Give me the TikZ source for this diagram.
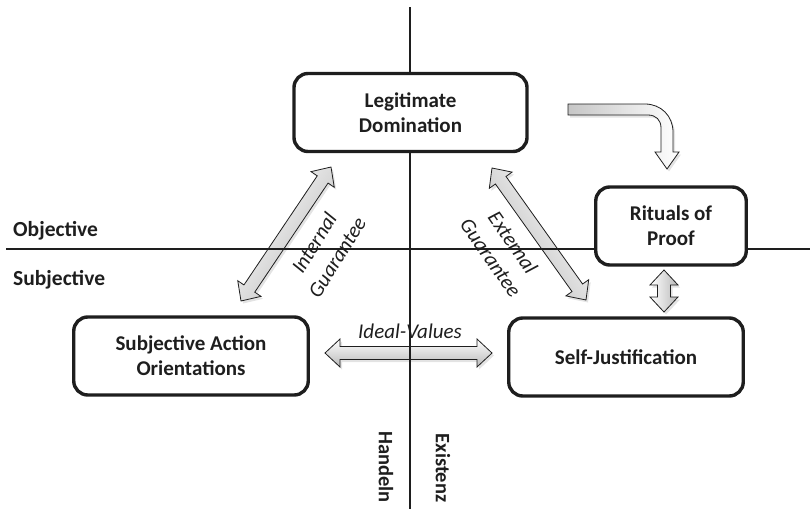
\documentclass[tikz,border=0pt]{standalone}
\usepackage{fontspec}
\setmainfont{Carlito}
\usetikzlibrary{calc,shadows}
\definecolor{ink}{HTML}{1E1E1E}
\tikzset{
  box/.style={draw=ink, line width=3.4pt, rounded corners=14pt, fill=white, align=center,
    inner sep=0pt, minimum height=78pt, text=ink, font=\bfseries\fontsize{21}{25}\selectfont},
  barrow/.style={draw=ink, line width=0.8pt, top color=white, bottom color=gray!55,
    drop shadow={opacity=0.22, shadow xshift=2pt, shadow yshift=-2.5pt}},
  axislabel/.style={text=ink, font=\bfseries\fontsize{21.5}{25}\selectfont, inner sep=0pt},
  arrowlabel/.style={text=ink, font=\itshape\fontsize{21}{27}\selectfont, align=center, inner sep=0pt},
  axisline/.style={draw=ink, line width=1.2pt}
}
\newcommand\blockarrow[3]{%
  \coordinate (tmpP) at ($(#1)!15pt!(#2)$);
  \coordinate (tmpQ) at ($(#2)!15pt!(#1)$);
  \path[barrow, shading angle=#3] (#1) -- ($(tmpP)!14pt!90:(#2)$) -- ($(tmpP)!6.5pt!90:(#2)$)
    -- ($(tmpQ)!6.5pt!-90:(#1)$) -- ($(tmpQ)!14pt!-90:(#1)$) -- (#2)
    -- ($(tmpQ)!14pt!90:(#1)$) -- ($(tmpQ)!6.5pt!90:(#1)$)
    -- ($(tmpP)!6.5pt!-90:(#2)$) -- ($(tmpP)!14pt!-90:(#2)$) -- cycle;}
\begin{document}
\begin{tikzpicture}[x=1pt, y=-1pt]
\useasboundingbox (0,0) rectangle (810,514);
% arrow end points
\coordinate (ia) at (241,301);
\coordinate (ib) at (331,167);
\coordinate (ea) at (492,168);
\coordinate (eb) at (586,300);
\coordinate (va) at (325,353);
\coordinate (vb) at (492,353);
\coordinate (ra) at (664,270);
\coordinate (rb) at (664,312);
% block arrows
\blockarrow{ia}{ib}{56}
\blockarrow{ea}{eb}{-55}
\blockarrow{va}{vb}{0}
\blockarrow{ra}{rb}{90}
% curved arrow
\path[draw=ink, line width=0.8pt, left color=gray!45, right color=white,
      drop shadow={opacity=0.22, shadow xshift=2pt, shadow yshift=-2.5pt}]
  (568,104) -- (645,104) .. controls (661,104) and (673,116) .. (673,132)
  -- (673,152) -- (679,152) -- (667,169) -- (655,152) -- (661,152)
  -- (661,128) .. controls (661,120) and (656,115) .. (648,115) -- (568,115) -- cycle;
% axes
\coordinate (vtop) at (410,7);
\coordinate (vbot) at (410,509);
\coordinate (hleft) at (6,249);
\coordinate (hright) at (810,249);
\draw[axisline] (vtop) -- (vbot);
\draw[axisline] (hleft) -- (hright);
% boxes
\node[box, minimum width=233pt] (leg) at (410.5,112.5) {Legitimate\\Domination};
\node[box, minimum width=150.5pt] (rit) at (671,226) {Rituals of\\Proof};
\node[box, minimum width=234.5pt] (sj) at (626,357) {Self-Justification};
\node[box, minimum width=234.5pt] (sao) at (191,356) {Subjective Action\\Orientations};
% labels
\node[axislabel, anchor=base west] (obj) at (13,236) {Objective};
\node[axislabel, anchor=base west] (subj) at (13,285) {Subjective};
\node[axislabel, rotate=-90, font=\bfseries\fontsize{20.5}{25}\selectfont] (hand) at (386,467) {Handeln};
\node[axislabel, rotate=-90, font=\bfseries\fontsize{20.5}{25}\selectfont] (exi) at (443,468) {Existenz};
\node[arrowlabel] (ival) at (410,331) {Ideal-Values};
\node[arrowlabel, rotate=58] (ig) at (325.5,250) {Internal\\Guarantee};
\node[arrowlabel, rotate=-55] (eg) at (502,250) {External\\Guarantee};
\end{tikzpicture}
\end{document}
